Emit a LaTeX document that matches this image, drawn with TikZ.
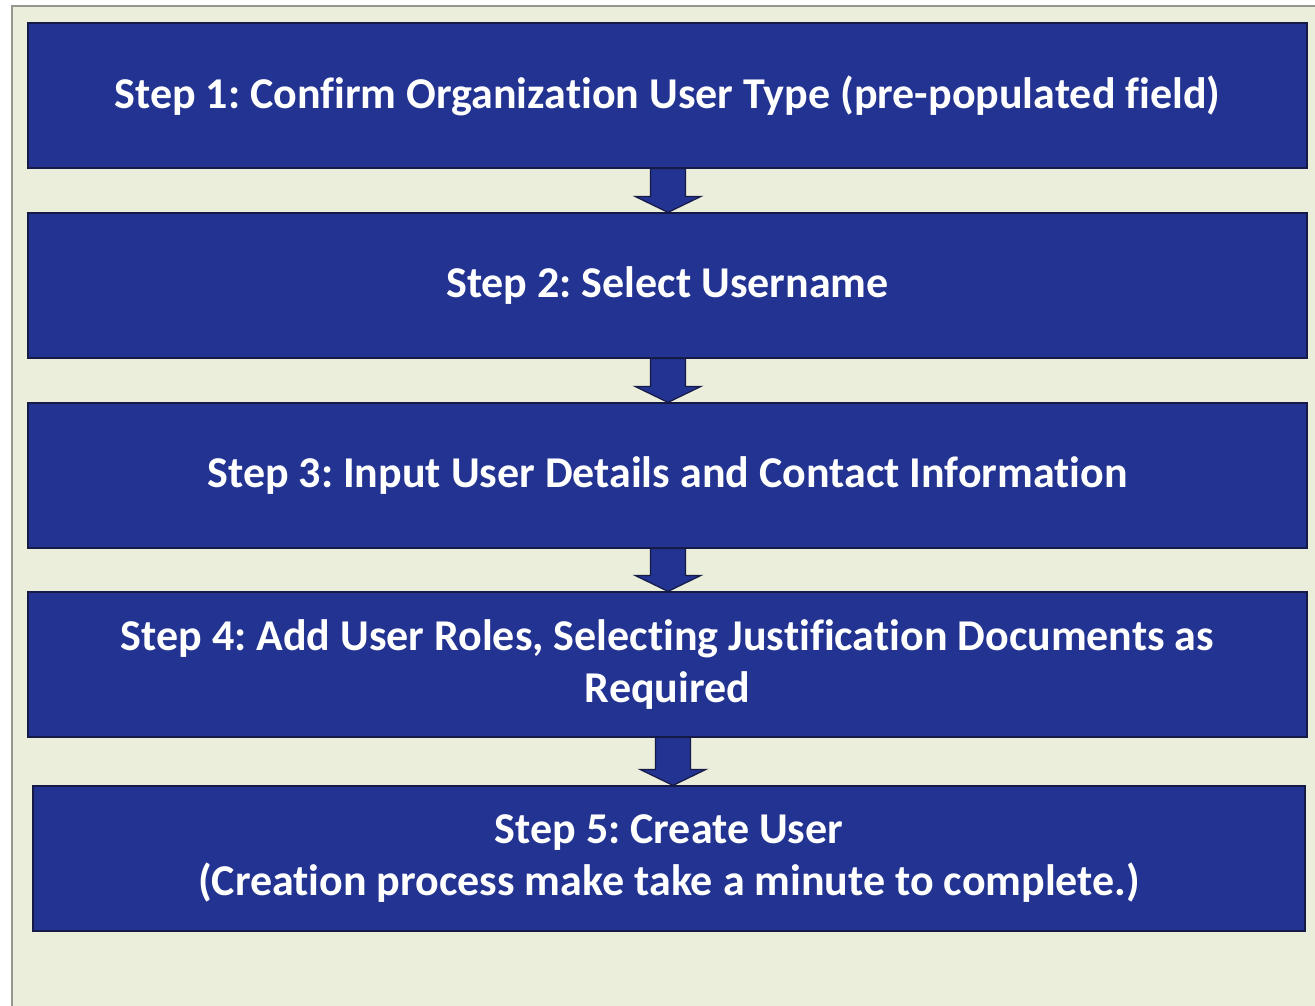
\documentclass[tikz,border=0pt]{standalone}
\usepackage{fontspec}
\setmainfont{Carlito}[Ligatures={NoCommon}]
\usetikzlibrary{calc}
\definecolor{stepblue}{RGB}{35,51,145}
\definecolor{stepedge}{RGB}{22,26,70}
\definecolor{panelbg}{RGB}{234,238,218}
\definecolor{panelframe}{RGB}{150,150,140}
\tikzset{
  stepbox/.style={rectangle, fill=stepblue, draw=stepedge, line width=1.2pt,
    minimum width=1279pt, minimum height=145pt, inner sep=0pt,
    text=white, align=center,
    font=\bfseries\fontsize{44}{52.5}\selectfont\frenchspacing},
  flowarrow/.style={fill=stepblue, draw=stepedge, line width=1.2pt, line join=miter},
}
% block arrow from the bottom of one step box to the top of the next
\newcommand\stepflow[3]{%
  \path[flowarrow] let \p1=(#1.south), \p2=(#2.north) in
    ({#3pt-17.5pt},\y1) -- ({#3pt+17.5pt},\y1) -- ({#3pt+17.5pt},{\y2+16pt})
    -- ({#3pt+33pt},{\y2+16pt}) -- ({#3pt},\y2) -- ({#3pt-33pt},{\y2+16pt})
    -- ({#3pt-17.5pt},{\y2+16pt}) -- cycle;}
\begin{document}
\begin{tikzpicture}[x=1pt,y=-1pt]
\useasboundingbox (0,0) rectangle (1315,1005);
\fill[white] (0,0) rectangle (1315,1005);
% panel behind the steps
\fill[panelbg] (12,6) rectangle (1320,1010);
\draw[panelframe, line width=2pt] (12,1010) -- (12,6) -- (1320,6);

\node[stepbox] (s1) at (667.5,95.5) {Step 1: Confirm Organization User Type (pre-populated field)};
\node[stepbox] (s2) at (667.5,285.5) {Step 2: Select Username};
\node[stepbox] (s3) at (667.5,475.5) {Step 3: Input User Details and Contact Information};
\node[stepbox] (s4) at (667.5,664.5) {Step 4: Add User Roles, Selecting Justification Documents as\\Required};
\node[stepbox, minimum width=1272pt] (s5) at (669,858.5) {Step 5: Create User\\(Creation process make take a minute to complete.)};

\stepflow{s1}{s2}{668}
\stepflow{s2}{s3}{668}
\stepflow{s3}{s4}{668}
\stepflow{s4}{s5}{673}
\end{tikzpicture}
\end{document}
